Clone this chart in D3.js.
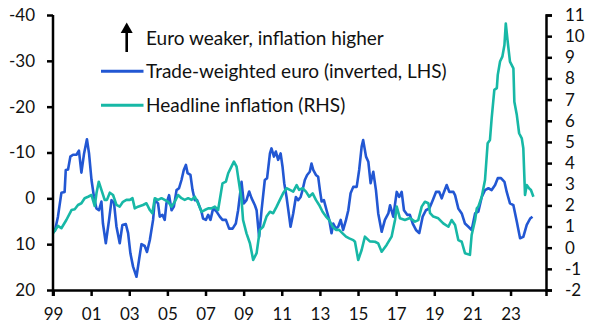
<!DOCTYPE html>
<html>
<head>
<meta charset="utf-8">
<script src="https://cdn.jsdelivr.net/npm/d3@7"></script>
<style>
	body { margin: 0; background: #fff; }
	text { font-family: Lato, "Open Sans", sans-serif; fill: #111; }
</style>
</head>
<body>
<div id="chart"></div>
<script>
const w = 590
const h = 329
const margin = { top: 15, right: 44, bottom: 39, left: 53 }

// Trade-weighted euro, % y/y (inverted, LHS)
const twiDates = [
	1999.09, 1999.26, 1999.44, 1999.61, 1999.67, 1999.79, 1999.91,
	2000.05, 2000.23, 2000.36, 2000.49, 2000.63, 2000.78, 2000.89,
	2001.02, 2001.15, 2001.28, 2001.41, 2001.54, 2001.62, 2001.77, 2001.94,
	2002.07, 2002.20, 2002.33, 2002.50, 2002.64, 2002.82, 2002.94,
	2003.06, 2003.20, 2003.38, 2003.51, 2003.64, 2003.81, 2003.93,
	2004.08, 2004.25, 2004.34, 2004.51, 2004.60, 2004.74, 2004.86, 2004.95,
	2005.09, 2005.22, 2005.34, 2005.48, 2005.61, 2005.74, 2005.86, 2005.97,
	2006.06, 2006.21, 2006.32, 2006.44, 2006.56, 2006.66, 2006.79, 2006.87,
	2007.02, 2007.14, 2007.26, 2007.40, 2007.58, 2007.75, 2007.89,
	2008.07, 2008.24, 2008.42, 2008.59, 2008.71, 2008.89,
	2009.01, 2009.15, 2009.29, 2009.42, 2009.59, 2009.68, 2009.81, 2009.94,
	2010.11, 2010.23, 2010.38, 2010.46, 2010.59, 2010.69, 2010.81, 2010.94,
	2011.04, 2011.13, 2011.25, 2011.39, 2011.46, 2011.60, 2011.74, 2011.86, 2011.99,
	2012.09, 2012.21, 2012.33, 2012.47, 2012.56, 2012.65, 2012.79, 2012.91,
	2013.00, 2013.09, 2013.21, 2013.35, 2013.49, 2013.61, 2013.70, 2013.84, 2013.96,
	2014.09, 2014.22, 2014.37, 2014.49, 2014.61, 2014.75, 2014.93,
	2015.06, 2015.19, 2015.27, 2015.42, 2015.54, 2015.66, 2015.80, 2015.94,
	2016.06, 2016.24, 2016.41, 2016.59, 2016.68, 2016.85,
	2017.03, 2017.16, 2017.29, 2017.41, 2017.58, 2017.72, 2017.87,
	2018.04, 2018.21, 2018.39, 2018.56, 2018.74, 2018.92,
	2019.09, 2019.26, 2019.39, 2019.51, 2019.65, 2019.79,
	2020.00, 2020.09, 2020.26, 2020.44, 2020.61, 2020.79, 2020.96,
	2021.14, 2021.31, 2021.49, 2021.66, 2021.84,
	2022.01, 2022.19, 2022.33, 2022.50, 2022.68, 2022.80, 2022.97,
	2023.15, 2023.33, 2023.50, 2023.67, 2023.85,
	2024.03, 2024.15
]
const twiValues = [
	7.3, 4.0, -1.2, -1.4, -6.2, -6.3, -9.1,
	-9.5, -9.5, -10.4, -5.6, -9.8, -12.9, -9.8,
	-4.0, -0.3, 2.2, 2.6, 0.7, 5.5, 9.8, 4.7,
	0.4, 1.0, 6.2, 9.8, 5.8, 5.6, 7.6,
	12.0, 14.9, 17.1, 13.5, 10.0, 10.4, 11.7,
	9.1, 4.7, 0.4, 1.1, 4.0, 3.6, 4.7, 1.1,
	-0.7, 2.6, 1.8, -1.8, -2.2, -4.0, -6.2, -7.3,
	-5.5, -5.1, -1.8, 0.4, 0.4, 1.5, 2.9, 4.4,
	4.7, 3.6, 4.7, 2.2, 2.9, 4.0, 4.7,
	4.7, 6.6, 6.6, 5.5, 2.6, -3.6,
	1.1, 0.4, -1.5, 0.0, 1.5, 2.6, 8.4, 2.6,
	-4.0, -4.4, -9.8, -10.9, -9.1, -10.2, -8.4, -9.8,
	-6.9, -3.3, -0.3, 4.0, 6.2, 3.3, -0.3, 0.4, -0.3,
	-1.8, -4.0, -5.1, -5.8, -7.6, -6.2, -5.1, -4.7,
	-1.8, 0.7, 0.4, 2.6, 4.7, 7.6, 5.5, 6.6, 6.2,
	4.7, 6.9, 4.7, 2.6, -1.1, -2.5, -2.5,
	-6.2, -11.3, -12.7, -9.1, -8.0, -3.3, -5.8, -1.8,
	3.3, 7.3, 4.7, 3.3, 1.5, 4.0,
	-1.4, -0.3, -1.4, 2.6, 3.6, 3.6, 5.5,
	6.9, 7.6, 4.0, 2.6, 2.2, 0.4,
	-1.4, -1.4, 0.0, -1.4, -2.9, -1.4,
	-1.4, -0.7, 2.2, 3.3, 5.5, 6.2, 6.9,
	3.3, 2.9, -0.3, -1.8, -2.2,
	-1.8, -2.9, -4.4, -4.4, -3.6, -1.4, 1.1,
	1.5, 5.1, 8.7, 8.4, 5.8,
	4.4, 4.0
]

// Headline inflation, % y/y (RHS)
const cpiDates = [
	1999.00, 1999.26, 1999.44, 1999.70, 1999.97,
	2000.14, 2000.31, 2000.49, 2000.66, 2000.84,
	2001.02, 2001.19, 2001.28, 2001.40, 2001.54, 2001.71, 2001.83, 2001.98,
	2002.15, 2002.33, 2002.50, 2002.67, 2002.85,
	2003.03, 2003.17, 2003.29, 2003.46, 2003.72, 2003.90,
	2004.08, 2004.21, 2004.34, 2004.51, 2004.69, 2004.86,
	2005.04, 2005.22, 2005.39, 2005.56, 2005.74, 2005.91,
	2006.09, 2006.27, 2006.44, 2006.61, 2006.79, 2006.96,
	2007.14, 2007.31, 2007.49, 2007.66, 2007.79, 2007.89,
	2008.07, 2008.19, 2008.36, 2008.49, 2008.63, 2008.76, 2008.89, 2008.97,
	2009.15, 2009.33, 2009.50, 2009.68, 2009.85,
	2010.02, 2010.20, 2010.38, 2010.55, 2010.73, 2010.90,
	2011.07, 2011.25, 2011.43, 2011.60, 2011.78, 2011.91,
	2012.09, 2012.27, 2012.44, 2012.62, 2012.79, 2012.96,
	2013.14, 2013.32, 2013.49, 2013.67, 2013.84,
	2014.01, 2014.19, 2014.37, 2014.54, 2014.75, 2014.84,
	2015.01, 2015.19, 2015.36, 2015.62, 2015.89,
	2016.06, 2016.24, 2016.50, 2016.76, 2016.94,
	2017.03, 2017.20, 2017.46, 2017.72, 2017.99,
	2018.16, 2018.34, 2018.51, 2018.69, 2018.78, 2018.95,
	2019.21, 2019.47, 2019.74, 2019.91,
	2020.09, 2020.26, 2020.44, 2020.61, 2020.87, 2020.96,
	2021.14, 2021.23, 2021.31, 2021.49, 2021.66, 2021.80, 2021.92,
	2022.01, 2022.15, 2022.28, 2022.33, 2022.45, 2022.57, 2022.68, 2022.75, 2022.85, 2022.97,
	2023.15, 2023.20, 2023.33, 2023.45, 2023.59, 2023.67, 2023.76, 2023.85, 2023.97,
	2024.07, 2024.20
]
const cpiValues = [
	0.68, 1.03, 0.92, 1.31, 1.78,
	1.82, 2.02, 2.10, 2.34, 2.41,
	2.49, 1.97, 2.57, 3.12, 2.73, 2.26, 2.26, 2.60,
	2.49, 2.02, 1.94, 2.17, 2.26,
	2.26, 2.34, 1.86, 1.94, 2.02, 2.10,
	1.78, 1.63, 2.34, 2.26, 2.34, 2.26,
	2.17, 1.94, 2.17, 2.49, 2.34, 2.26,
	2.34, 2.26, 2.41, 2.10, 1.70, 1.78,
	1.86, 1.86, 1.94, 1.78, 2.49, 3.04,
	3.12, 3.52, 3.83, 4.07, 3.83, 3.04, 2.26, 1.31,
	0.68, 0.21, -0.58, -0.26, 0.84,
	0.99, 1.47, 1.70, 1.63, 1.94, 2.26,
	2.57, 2.81, 2.73, 2.65, 2.96, 2.73,
	2.81, 2.65, 2.41, 2.57, 2.26, 2.02,
	1.70, 1.47, 1.31, 0.99, 0.84,
	0.84, 0.68, 0.52, 0.44, 0.36, 0.28,
	-0.58, -0.11, 0.52, 0.30, 0.28,
	0.20, -0.19, 0.13, 0.52, 1.31,
	1.94, 1.39, 1.31, 1.40, 1.23,
	1.30, 1.94, 2.17, 2.10, 1.63, 1.47,
	1.39, 1.15, 0.99, 1.31,
	1.07, 0.36, 0.28, -0.26, -0.34, 0.60,
	1.31, 1.86, 1.94, 2.41, 3.20, 4.94, 5.09,
	6.12, 7.46, 7.54, 8.17, 8.80, 9.03, 9.58, 10.60, 9.74, 8.80,
	8.48, 6.90, 6.27, 5.41, 5.17, 4.70, 2.49, 2.96, 2.81,
	2.73, 2.41
]

const xTicks = [1999, 2001, 2003, 2005, 2007, 2009, 2011, 2013, 2015, 2017, 2019, 2021, 2023]
const leftTicks = [-40, -30, -20, -10, 0, 10, 20]
const rightTicks = [11, 10, 9, 8, 7, 6, 5, 4, 3, 2, 1, 0, -1, -2]

const blue = "#2257d3"
const teal = "#17b8a6"

const twiData = twiDates.map((d, i) => ({ x: d, y: twiValues[i] }))
const cpiData = cpiDates.map((d, i) => ({ x: d, y: cpiValues[i] }))

const svg = d3.select("#chart")
	.append("svg")
	.attr("width", w)
	.attr("height", h)

let xScale = d3.scaleLinear()
	.domain([1999, 2024.86])
	.range([margin.left, w - margin.right])

let yLeft = d3.scaleLinear()
	.domain([-40, 20]) // inverted: euro weaker at the top
	.range([margin.top, h - margin.bottom])

let yRight = d3.scaleLinear()
	.domain([-2, 11])
	.range([h - margin.bottom, margin.top])

let xAxis = d3.axisBottom(xScale)
	.tickValues(xTicks)
	.tickFormat(d => String(d).slice(2))
	.tickSize(6)
	.tickPadding(12)

let leftAxis = d3.axisLeft(yLeft)
	.tickValues(leftTicks)
	.tickFormat(d => String(d))
	.tickSize(6)
	.tickPadding(12)

let rightAxis = d3.axisRight(yRight)
	.tickValues(rightTicks)
	.tickFormat(d => String(d))
	.tickSize(6)
	.tickPadding(13)

let styleAxis = g => {
	g.select(".domain").attr("stroke", "#000").attr("stroke-width", 2.5)
	g.selectAll(".tick line").attr("stroke", "#000").attr("stroke-width", 2.5)
	g.selectAll(".tick text").attr("font-size", 17).attr("fill", "#111")
		.attr("font-family", "Lato, 'Open Sans', sans-serif")
}

let lineTwi = d3.line()
	.x(d => xScale(d.x))
	.y(d => yLeft(d.y))

let lineCpi = d3.line()
	.x(d => xScale(d.x))
	.y(d => yRight(d.y))

svg.append("path")
	.datum(twiData)
	.attr("fill", "none")
	.attr("stroke", blue)
	.attr("stroke-width", 2.6)
	.attr("stroke-linejoin", "round")
	.attr("d", lineTwi)

svg.append("path")
	.datum(cpiData)
	.attr("fill", "none")
	.attr("stroke", teal)
	.attr("stroke-width", 2.6)
	.attr("stroke-linejoin", "round")
	.attr("d", lineCpi)

svg.append("g")
	.attr("transform", "translate(0," + (h - margin.bottom) + ")")
	.call(xAxis)
	.call(styleAxis)

svg.append("g")
	.attr("transform", "translate(" + margin.left + ",0)")
	.call(leftAxis)
	.call(g => g.select(".domain").attr("d", "M0," + margin.top + "V" + (h - margin.bottom + 6)))
	.call(styleAxis)

svg.append("g")
	.attr("transform", "translate(" + (w - margin.right) + ",0)")
	.call(rightAxis)
	.call(styleAxis)

// Legend
const legend = svg.append("g")

legend.append("path")
	.attr("d", "M126.7,22.5 L120.7,33 L132.7,33 Z")
	.attr("fill", "#000")

legend.append("line")
	.attr("x1", 126.7).attr("x2", 126.7)
	.attr("y1", 32).attr("y2", 52)
	.attr("stroke", "#000")
	.attr("stroke-width", 2.6)

legend.append("text")
	.attr("x", 146)
	.attr("y", 45)
	.attr("font-size", 19)
	.text("Euro weaker, inflation higher")

let legendItems = [
	{ label: "Trade-weighted euro (inverted, LHS)", color: blue, y: 71.3 },
	{ label: "Headline inflation (RHS)", color: teal, y: 105.3 }
]

legendItems.forEach(item => {
	legend.append("line")
		.attr("x1", 101).attr("x2", 143.5)
		.attr("y1", item.y).attr("y2", item.y)
		.attr("stroke", item.color)
		.attr("stroke-width", 3)
	legend.append("text")
		.attr("x", 146)
		.attr("y", item.y + 7)
		.attr("font-size", 19)
		.text(item.label)
})
</script>
</body>
</html>
